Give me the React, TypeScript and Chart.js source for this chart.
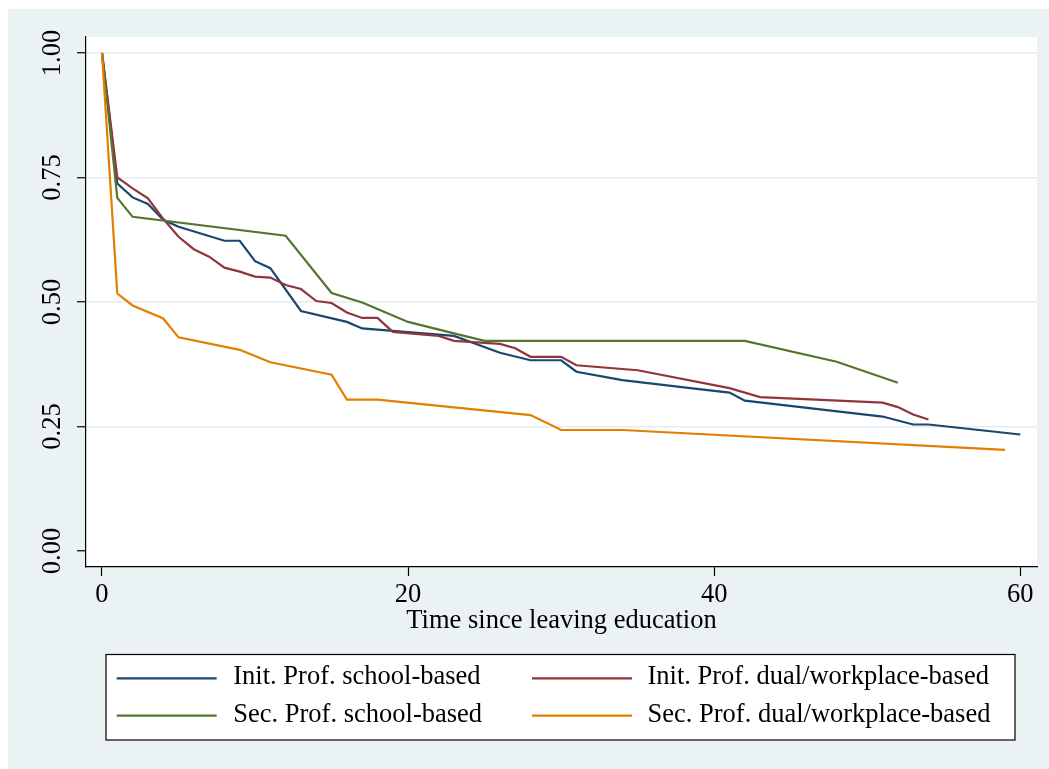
import { useEffect, useRef } from "react";
import { Chart, registerables } from "chart.js";

Chart.register(...registerables);

// Series names and colours
const seriesLabels = [
  "Init. Prof. school-based",
  "Init. Prof. dual/workplace-based",
  "Sec. Prof. school-based",
  "Sec. Prof. dual/workplace-based",
];
const seriesColors = ["#1A476F", "#90353B", "#55752F", "#E37E00"];

// Survival estimates by time since leaving education
const initSchoolTime = [0, 1, 2, 3, 4, 5, 8, 9, 10, 11, 13, 16, 17, 23, 26, 28, 30, 31, 34, 39, 41, 42, 51, 53, 54, 60];
const initSchoolSurv = [1.0, 0.738, 0.71, 0.697, 0.665, 0.651, 0.623, 0.623, 0.582, 0.568, 0.482, 0.46, 0.447, 0.432, 0.398, 0.383, 0.383, 0.36, 0.343, 0.325, 0.318, 0.302, 0.27, 0.254, 0.254, 0.234];

const initDualTime = [0, 1, 2, 3, 4, 5, 6, 7, 8, 9, 10, 11, 12, 13, 14, 15, 16, 17, 18, 19, 22, 23, 26, 27, 28, 30, 31, 35, 41, 43, 51, 52, 53, 54];
const initDualSurv = [1.0, 0.75, 0.728, 0.708, 0.667, 0.631, 0.606, 0.591, 0.569, 0.561, 0.551, 0.549, 0.534, 0.526, 0.502, 0.498, 0.479, 0.468, 0.468, 0.44, 0.432, 0.422, 0.416, 0.407, 0.39, 0.39, 0.373, 0.363, 0.327, 0.309, 0.298, 0.289, 0.274, 0.264];

const secSchoolTime = [0, 1, 2, 12, 15, 17, 20, 23, 25, 42, 48, 52];
const secSchoolSurv = [1.0, 0.709, 0.671, 0.633, 0.518, 0.499, 0.46, 0.437, 0.422, 0.422, 0.38, 0.338];

const secDualTime = [0, 1, 2, 4, 5, 9, 11, 15, 16, 18, 28, 30, 34, 59];
const secDualSurv = [1.0, 0.517, 0.493, 0.467, 0.429, 0.404, 0.379, 0.354, 0.304, 0.304, 0.273, 0.243, 0.243, 0.203];

// Axes
const xTicks = [0, 20, 40, 60];
const yTicks = [0, 0.25, 0.5, 0.75, 1];
const yTickLabels = ["0.00", "0.25", "0.50", "0.75", "1.00"];
const xTitle = "Time since leaving education";

const FONT = "'Liberation Serif', 'Times New Roman', serif";
const TEXT_PX = 26.5;
const LINE_W = 2.2;

const toPoints = (t: number[], s: number[]) => t.map((x, i) => ({ x, y: s[i] }));

// White plot region, rotated y labels, x labels, axis title and boxed legend
const decorPlugin = {
  id: "decor",
  beforeDraw(chart: any) {
    const { ctx, chartArea: a } = chart;
    ctx.save();
    ctx.fillStyle = "#FFFFFF";
    ctx.fillRect(a.left, a.top, a.right - a.left, a.bottom - a.top);
    ctx.restore();
  },
  afterDraw(chart: any) {
    const { ctx, chartArea: a, scales } = chart;
    ctx.save();
    ctx.fillStyle = "#000000";
    ctx.font = `${TEXT_PX}px ${FONT}`;
    ctx.textBaseline = "alphabetic";
    ctx.textAlign = "center";

    xTicks.forEach((v) => {
      ctx.fillText(String(v), scales.x.getPixelForValue(v), a.bottom + 35);
    });

    yTicks.forEach((v, i) => {
      const y = scales.y.getPixelForValue(v);
      ctx.save();
      ctx.translate(a.left - 26, y);
      ctx.rotate(-Math.PI / 2);
      ctx.fillText(yTickLabels[i], 0, 0);
      ctx.restore();
    });

    ctx.fillText(xTitle, (a.left + a.right) / 2, a.bottom + 61);

    // legend box
    const box = { left: 98, top: 645.5, right: 1007, bottom: 731 };
    ctx.fillStyle = "#FFFFFF";
    ctx.fillRect(box.left, box.top, box.right - box.left, box.bottom - box.top);
    ctx.strokeStyle = "#000000";
    ctx.lineWidth = 1.2;
    ctx.strokeRect(box.left, box.top, box.right - box.left, box.bottom - box.top);

    const colLineX = [108.7, 524];
    const colTextX = [225.3, 639.5];
    const rowLineY = [669.3, 706.7];
    ctx.textAlign = "left";
    chart.data.datasets.forEach((ds: any, i: number) => {
      const col = i % 2;
      const row = Math.floor(i / 2);
      ctx.strokeStyle = ds.borderColor;
      ctx.lineWidth = LINE_W;
      ctx.beginPath();
      ctx.moveTo(colLineX[col], rowLineY[row]);
      ctx.lineTo(colLineX[col] + 100, rowLineY[row]);
      ctx.stroke();
      ctx.fillStyle = "#000000";
      ctx.fillText(ds.label, colTextX[col], rowLineY[row] + 6);
    });
    ctx.restore();
  },
};

export default function App() {
  const canvasRef = useRef<HTMLCanvasElement | null>(null);

  useEffect(() => {
    const canvas = canvasRef.current;
    if (!canvas) return;
    const series = [
      toPoints(initSchoolTime, initSchoolSurv),
      toPoints(initDualTime, initDualSurv),
      toPoints(secSchoolTime, secSchoolSurv),
      toPoints(secDualTime, secDualSurv),
    ];
    const chart = new Chart(canvas, {
      type: "line",
      data: {
        datasets: series.map((data, i) => ({
          label: seriesLabels[i],
          data,
          borderColor: seriesColors[i],
          backgroundColor: seriesColors[i],
          borderWidth: LINE_W,
          pointRadius: 0,
          tension: 0,
          fill: false,
          order: 4 - i,
        })),
      },
      options: {
        animation: false,
        responsive: false,
        devicePixelRatio: 1,
        layout: { padding: { left: 0, top: 28, right: 12, bottom: 0 } },
        plugins: {
          legend: { display: false },
          tooltip: { enabled: false },
          title: { display: false },
        },
        scales: {
          x: {
            type: "linear",
            min: -1.045,
            max: 61.09,
            afterBuildTicks: (s: any) => {
              s.ticks = xTicks.map((value) => ({ value }));
            },
            afterFit: (s: any) => {
              s.height = 202;
            },
            ticks: { display: false },
            grid: {
              drawOnChartArea: false,
              drawTicks: true,
              tickLength: 9,
              tickColor: "#000000",
              tickWidth: 1.2,
            },
            border: { display: true, color: "#000000", width: 1.2 },
          },
          y: {
            type: "linear",
            min: -0.0321,
            max: 1.0321,
            afterBuildTicks: (s: any) => {
              s.ticks = yTicks.map((value) => ({ value }));
            },
            afterFit: (s: any) => {
              s.width = 78;
            },
            ticks: { display: false },
            grid: {
              color: (c: any) => (c.tick && c.tick.value === 0 ? "rgba(0,0,0,0)" : "#E4ECEF"),
              lineWidth: 1.5,
              drawTicks: true,
              tickLength: 9,
              tickColor: "#000000",
              tickWidth: 1.2,
            },
            border: { display: true, color: "#000000", width: 1.2 },
          },
        },
      },
      plugins: [decorPlugin],
    });
    return () => chart.destroy();
  }, []);

  return (
    <div
      style={{
        position: "fixed",
        left: 8,
        top: 9,
        width: 1041,
        height: 760,
        background: "#EAF2F3",
      }}
    >
      <canvas ref={canvasRef} width={1041} height={760} style={{ display: "block" }} />
    </div>
  );
}
